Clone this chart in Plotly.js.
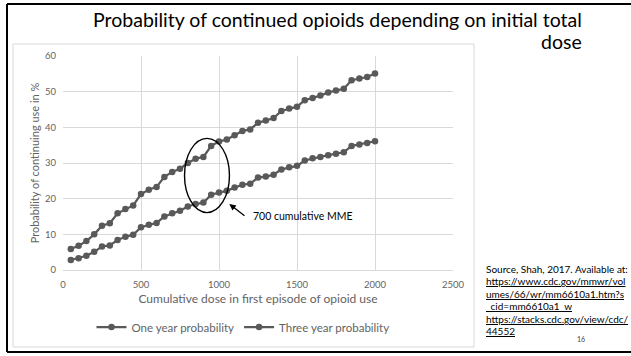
<!DOCTYPE html>
<html>
<head>
<meta charset="utf-8">
<script src="https://cdn.plot.ly/plotly-3.0.1.min.js"></script>
<style>
  html, body { margin: 0; padding: 0; background: #ffffff; }
  #chart { width: 631px; height: 356px; }
</style>
</head>
<body>
<div id="chart"></div>
<script>
// ---- data ----
const doses = [50, 100, 150, 200, 250, 300, 350, 400, 450, 500,
               550, 600, 650, 700, 750, 800, 850, 900, 950, 1000,
               1050, 1100, 1150, 1200, 1250, 1300, 1350, 1400, 1450, 1500,
               1550, 1600, 1650, 1700, 1750, 1800, 1850, 1900, 1950, 2000];
const oneYear = [5.9, 6.8, 8.1, 10.0, 12.4, 13.1, 15.9, 17.1, 18.1, 21.3,
                 22.5, 23.3, 26.1, 27.5, 28.4, 30.0, 31.2, 31.7, 34.8, 36.0,
                 36.6, 37.8, 39.0, 39.4, 41.3, 41.9, 42.6, 44.6, 45.3, 45.8,
                 47.6, 48.2, 48.9, 49.8, 50.3, 50.8, 53.2, 53.7, 54.1, 55.1];
const threeYear = [2.8, 3.3, 4.0, 5.1, 6.6, 6.9, 8.4, 9.3, 9.9, 12.0,
                   12.7, 13.2, 15.0, 15.9, 16.6, 17.8, 18.5, 18.9, 21.1, 21.7,
                   22.2, 23.1, 23.9, 24.2, 25.9, 26.2, 26.7, 28.2, 28.8, 29.2,
                   30.7, 31.3, 31.7, 32.2, 32.6, 33.0, 34.8, 35.2, 35.6, 36.1];
const seriesNames = ["One year probability", "Three year probability"];
const xTickVals = [0, 500, 1000, 1500, 2000, 2500];
const yTickVals = [0, 10, 20, 30, 40, 50, 60];
const titleLine1 = "Probability of continued opioids depending on initial total";
const titleLine2 = "dose";
const xTitle = "Cumulative dose in first episode of opioid use";
const yTitle = "Probability of continuing use in %";
const calloutText = "700 cumulative MME";
const sourceLines = [
  "Source, Shah, 2017. Available at:",
  "<span style=\"text-decoration:underline\">https://www.cdc.gov/mmwr/vol</span>",
  "<span style=\"text-decoration:underline\">umes/66/wr/mm6610a1.htm?s</span>",
  "<span style=\"text-decoration:underline\">_cid=mm6610a1_w</span>",
  "<span style=\"text-decoration:underline\">https://stacks.cdc.gov/view/cdc/</span>",
  "<span style=\"text-decoration:underline\">44552</span>"
];
const slideNumber = "16";

// ---- layout helpers (pixel -> paper) ----
const W = 631, H = 356;
const L = 63, R = 453, T = 56, B = 270;
const px = v => (v - L) / (R - L);
const py = v => (B - v) / (B - T);

const FONT = "Lato, 'Open Sans', sans-serif";
const GRAY = "#636363";
const markColor = "#595959";

const traces = [
  {
    x: doses, y: oneYear, name: seriesNames[0], type: "scatter", mode: "lines+markers",
    line: { color: markColor, width: 2.25 },
    marker: { color: markColor, size: 6.5 }
  },
  {
    x: doses, y: threeYear, name: seriesNames[1], type: "scatter", mode: "lines+markers",
    line: { color: markColor, width: 2.25 },
    marker: { color: markColor, size: 6.5 }
  }
];

const annotations = [
  { xref: "paper", yref: "paper", x: px(584), y: py(20), xanchor: "right", yanchor: "middle",
    text: titleLine1, showarrow: false, font: { family: FONT, size: 19.5, color: "#000" } },
  { xref: "paper", yref: "paper", x: px(584), y: py(41), xanchor: "right", yanchor: "middle",
    text: titleLine2, showarrow: false, font: { family: FONT, size: 19.5, color: "#000" } },
  // callout arrow
  { xref: "x", yref: "y", axref: "x", ayref: "y", x: 1066, y: 18.5, ax: 1173, ay: 14.9,
    text: "", showarrow: true, arrowhead: 2, arrowsize: 1, arrowwidth: 1.3, arrowcolor: "#000" },
  { xref: "x", yref: "y", x: 1203, y: 15.1, xanchor: "left", yanchor: "middle",
    text: calloutText, showarrow: false, font: { family: FONT, size: 10.5, color: "#000" } },
  { xref: "paper", yref: "paper", x: px(581), y: py(339), xanchor: "center", yanchor: "middle",
    text: slideNumber, showarrow: false, font: { family: FONT, size: 7, color: "#444" } }
];
sourceLines.forEach((t, i) => {
  annotations.push({ xref: "paper", yref: "paper", x: px(484), y: py(269 + i * 12.4),
    xanchor: "left", yanchor: "middle", text: t, showarrow: false,
    font: { family: FONT, size: 10, color: "#000" } });
});

const shapes = [
  // chart area frame
  { type: "rect", xref: "paper", yref: "paper", x0: px(13), x1: px(474), y0: py(347), y1: py(44),
    line: { color: "#d9d9d9", width: 1 }, fillcolor: "rgba(0,0,0,0)", layer: "below" },
  // slide border (left, top, bottom)
  { type: "line", xref: "paper", yref: "paper", x0: px(7), x1: px(7), y0: py(352), y1: py(4),
    line: { color: "#000", width: 2 } },
  { type: "line", xref: "paper", yref: "paper", x0: px(7), x1: px(640), y0: py(4), y1: py(4),
    line: { color: "#000", width: 2 } },
  { type: "line", xref: "paper", yref: "paper", x0: px(7), x1: px(640), y0: py(352), y1: py(352),
    line: { color: "#000", width: 2 } },
  // highlight ellipse
  { type: "circle", xref: "x", yref: "y", x0: 779, x1: 1067, y0: 16.1, y1: 36.9,
    line: { color: "#000", width: 1.4 }, fillcolor: "rgba(0,0,0,0)" }
];

const layout = {
  width: W, height: H,
  margin: { l: L, r: W - R, t: T, b: H - B, pad: 0 },
  paper_bgcolor: "#fff", plot_bgcolor: "#fff",
  showlegend: true,
  legend: { orientation: "h", x: px(243), y: py(327), xanchor: "center", yanchor: "middle",
            font: { family: FONT, size: 11.5, color: GRAY }, bgcolor: "rgba(0,0,0,0)" },
  xaxis: {
    range: [0, 2500], tickvals: xTickVals, ticktext: xTickVals.map(String),
    showgrid: true, gridcolor: "#d9d9d9", gridwidth: 1, zeroline: false,
    showline: true, linecolor: "#d9d9d9", linewidth: 1, ticks: "", ticklabelstandoff: 6,
    tickfont: { family: FONT, size: 9.5, color: GRAY },
    title: { text: xTitle, font: { family: FONT, size: 12, color: GRAY }, standoff: 5 },
    automargin: false, fixedrange: true
  },
  yaxis: {
    range: [0, 60], tickvals: yTickVals, ticktext: yTickVals.map(String),
    showgrid: true, gridcolor: "#d9d9d9", gridwidth: 1, zeroline: false,
    showline: false, ticks: "", ticklabelstandoff: 6,
    tickfont: { family: FONT, size: 9.5, color: GRAY },
    title: { text: yTitle, font: { family: FONT, size: 11, color: GRAY }, standoff: 3 },
    automargin: false, fixedrange: true
  },
  annotations: annotations,
  shapes: shapes
};

Plotly.newPlot("chart", traces, layout, { displayModeBar: false, staticPlot: true });
</script>
</body>
</html>
